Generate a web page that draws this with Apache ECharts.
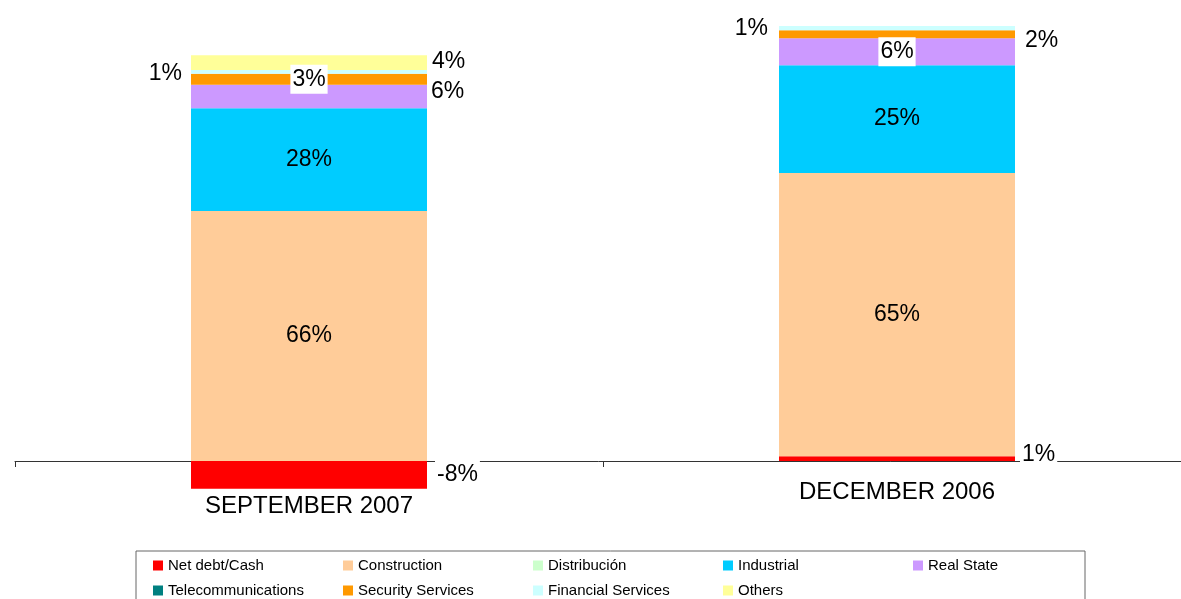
<!DOCTYPE html>
<html>
<head>
<meta charset="utf-8">
<title>Breakdown by activity</title>
<script src="https://cdn.jsdelivr.net/npm/echarts@6/dist/echarts.min.js"></script>
<style>
    html, body { margin: 0; padding: 0; background: #fff; }
    #chart { width: 1181px; height: 599px; }
</style>
</head>
<body>
<div id="chart"></div>
<script>
var categories = ['SEPTEMBER 2007', 'DECEMBER 2006'];

// bar heights (same unit for both bars)
var netDebt = [-6.4, 1.1];
var construction = [57.5, 65.1];
var distribucion = [0, 0];
var industrial = [23.6, 24.8];
var realState = [5.4, 6.2];
var telecom = [0, 0];
var security = [2.5, 1.8];
var financial = [0.9, 1.1];
var others = [3.4, 0];

// the percentages printed on the chart
var netDebtLabels = ['-8%', '1%'];
var constructionLabels = ['66%', '65%'];
var distribucionLabels = ['', ''];
var industrialLabels = ['28%', '25%'];
var realStateLabels = ['6%', '6%'];
var telecomLabels = ['', ''];
var securityLabels = ['3%', '2%'];
var financialLabels = ['1%', '1%'];
var othersLabels = ['4%', ''];

var legendRow1 = ['Net debt/Cash', 'Construction', 'Distribución', 'Industrial', 'Real State'];
var legendRow2 = ['Telecommunications', 'Security Services', 'Financial Services', 'Others'];

var font = 'Liberation Sans, Arial, sans-serif';

var myChart = echarts.init(document.getElementById('chart'));
window.onresize = function () {
    myChart.resize();
};

// label placement per bar: [sep, dec]
function makeSeries(name, color, values, labels, places) {
    var data = [];
    for (var i = 0; i < values.length; i++) {
        var p = places[i];
        var lab = {
            show: labels[i] !== '',
            formatter: labels[i],
            position: p.pos,
            distance: p.dist || 6,
            offset: p.off || [0, 0],
            color: '#000',
            fontFamily: font,
            fontSize: 23
        };
        if (p.bg) {
            lab.backgroundColor = '#fff';
            lab.padding = [3, 2, 3, 2];
        }
        data.push({ value: values[i], label: lab });
    }
    return {
        name: name,
        type: 'bar',
        stack: 'total',
        barWidth: 236,
        itemStyle: { color: color },
        data: data
    };
}

var legendText = { color: '#000', fontSize: 15, width: 150, lineHeight: 15, fontFamily: font };

var option = {
    animation: false,
    textStyle: { fontFamily: font },
    grid: { left: 15, width: 1176, top: 26, bottom: 94.5, outerBoundsMode: 'none' },
    legend: [
        {
            data: legendRow1,
            selectedMode: false,
            left: 136,
            top: 551,
            padding: [7, 7, 40, 17],
            borderColor: '#666',
            borderWidth: 1,
            itemWidth: 10,
            itemHeight: 10,
            itemGap: 25,
            icon: 'rect',
            textStyle: legendText
        },
        {
            data: legendRow2,
            selectedMode: false,
            left: 153,
            top: 583,
            padding: 0,
            itemWidth: 10,
            itemHeight: 10,
            itemGap: 25,
            icon: 'rect',
            textStyle: legendText
        }
    ],
    xAxis: {
        type: 'category',
        data: categories,
        axisLine: { onZero: true, lineStyle: { color: '#333', width: 1 } },
        axisTick: { show: true, length: 6, lineStyle: { color: '#333' } },
        axisLabel: {
            margin: -24,
            color: '#000',
            fontSize: 24,
            fontFamily: font,
            formatter: function (v, i) {
                return i === 0 ? '{s|' + v + '}' : '{d|' + v + '}';
            },
            rich: {
                s: { fontSize: 24, fontFamily: font, color: '#000', padding: [14, 0, 0, 0] },
                d: { fontSize: 24, fontFamily: font, color: '#000' }
            }
        }
    },
    yAxis: { type: 'value', min: -10, max: 100, show: false },
    series: [
        makeSeries('Net debt/Cash', '#FF0000', netDebt, netDebtLabels,
            [{ pos: 'right', dist: 8, bg: true }, { pos: 'right', dist: 5, bg: true, off: [0, -4] }]),
        makeSeries('Construction', '#FFCC99', construction, constructionLabels,
            [{ pos: 'inside' }, { pos: 'inside' }]),
        makeSeries('Distribución', '#CCFFCC', distribucion, distribucionLabels,
            [{ pos: 'inside' }, { pos: 'inside' }]),
        makeSeries('Industrial', '#00CCFF', industrial, industrialLabels,
            [{ pos: 'inside' }, { pos: 'inside' }]),
        makeSeries('Real State', '#CC99FF', realState, realStateLabels,
            [{ pos: 'right', dist: 4, off: [0, -5] }, { pos: 'inside', bg: true }]),
        makeSeries('Telecommunications', '#008080', telecom, telecomLabels,
            [{ pos: 'inside' }, { pos: 'inside' }]),
        makeSeries('Security Services', '#FF9900', security, securityLabels,
            [{ pos: 'inside', bg: true }, { pos: 'right', dist: 10, off: [0, 6] }]),
        makeSeries('Financial Services', '#CCFFFF', financial, financialLabels,
            [{ pos: 'left', dist: 9, off: [0, 2] }, { pos: 'left', dist: 11 }]),
        makeSeries('Others', '#FFFF99', others, othersLabels,
            [{ pos: 'right', dist: 5, off: [0, -1] }, { pos: 'right' }])
    ]
};

myChart.setOption(option);
</script>
</body>
</html>
